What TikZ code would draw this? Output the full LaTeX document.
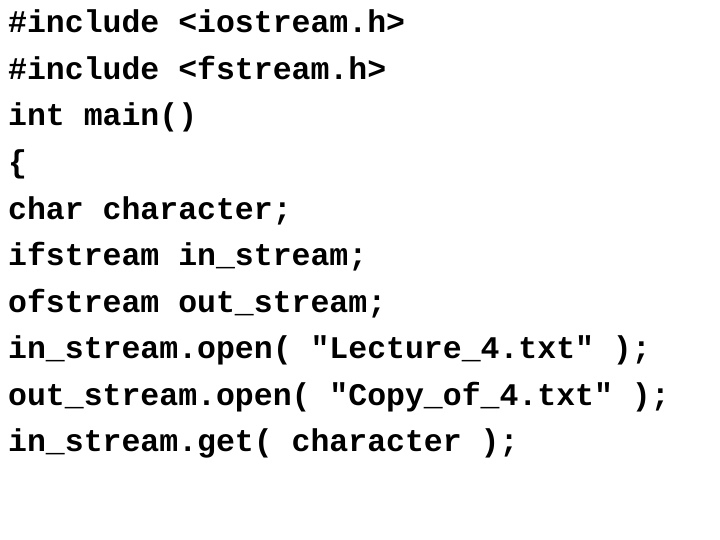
\documentclass[tikz,border=0pt]{standalone}
\usepackage{fontspec}
\setmonofont{Liberation Mono}
\begin{document}
\begin{tikzpicture}[x=1pt,y=1pt,code/.style={anchor=base west,inner sep=0pt,font=\ttfamily\bfseries\fontsize{31.5}{36}\selectfont}]
\useasboundingbox[fill=white] (0,0) rectangle (720,-540);
\foreach \t [count=\i from 0] in {{\#include <iostream.h>},{\#include <fstream.h>},{int main()},{\{},{char character;},{ifstream in\_stream;},{ofstream out\_stream;},{in\_stream.open( "Lecture\_4.txt" );},{out\_stream.open( "Copy\_of\_4.txt" );},{in\_stream.get( character );}}
  \node[code] (l\i) at (8,{-33-46.5*\i}) {\t};
\end{tikzpicture}
\end{document}
